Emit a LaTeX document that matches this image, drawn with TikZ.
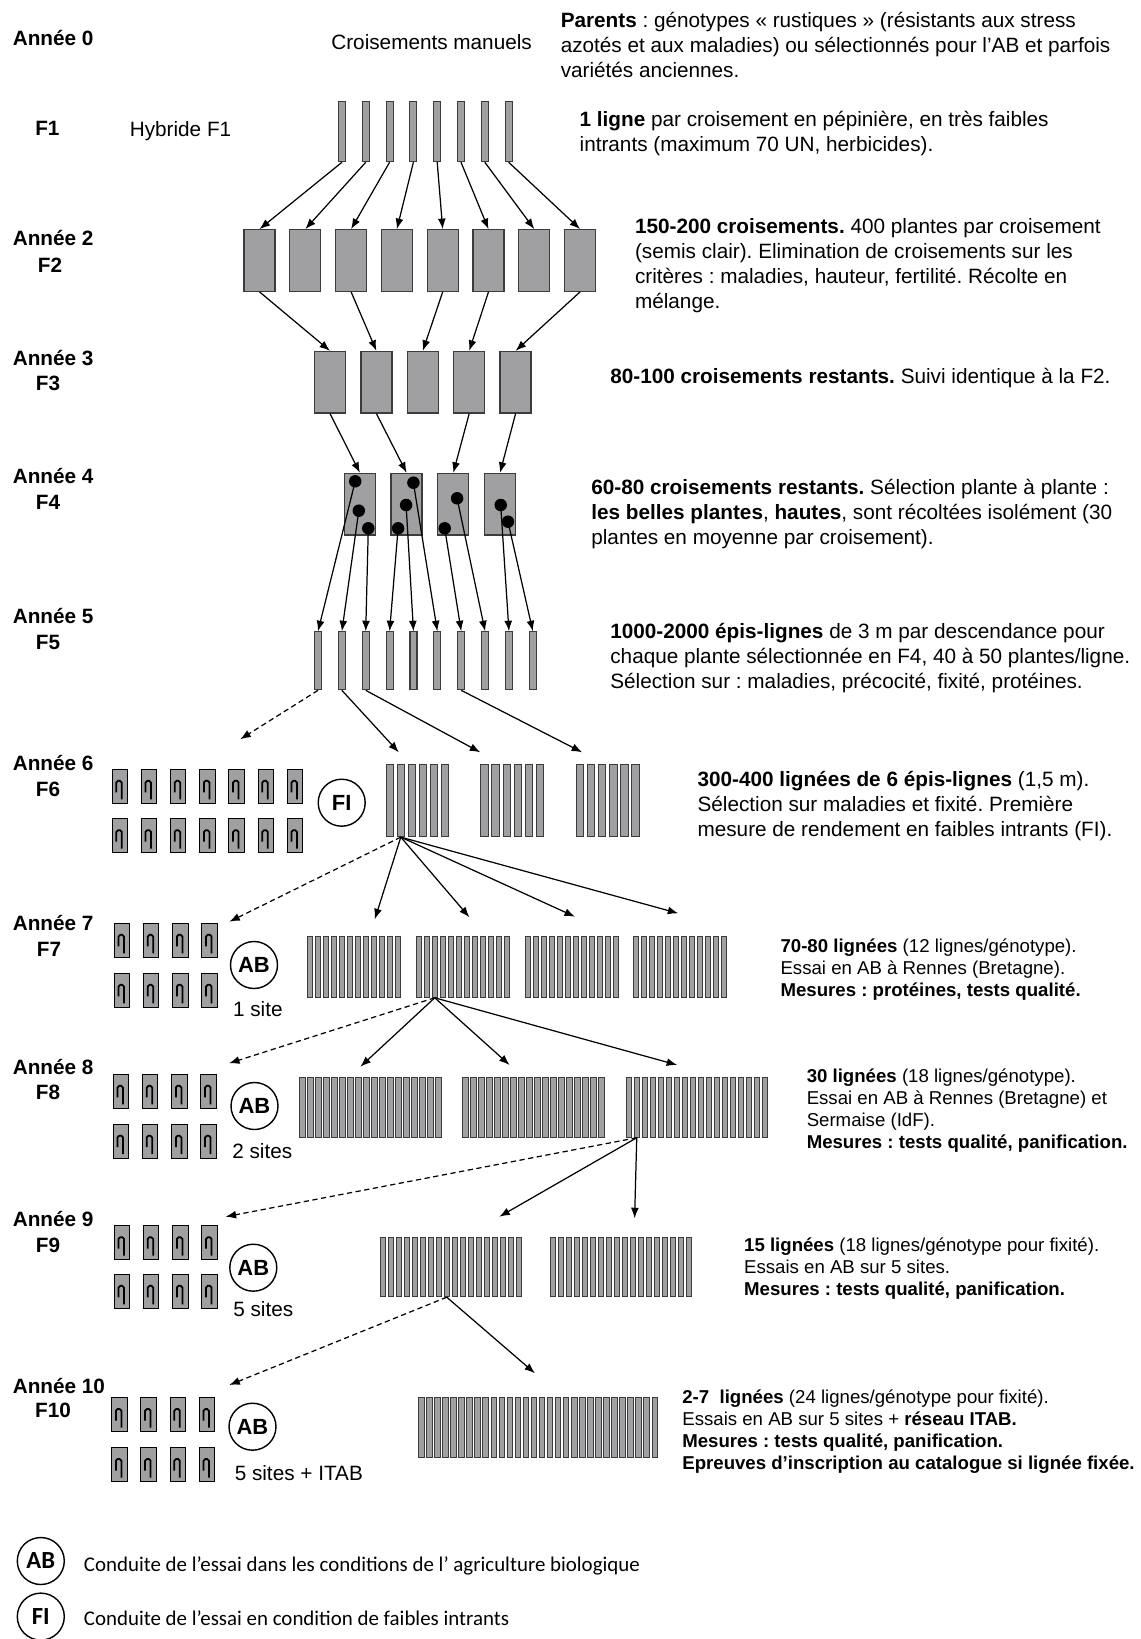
\documentclass[tikz,border=0pt]{standalone}
\usepackage{fontspec}
\setmainfont{Liberation Sans}
\newfontfamily\legfont{Carlito}
\usepackage{tikz}
\usetikzlibrary{arrows.meta}
\frenchspacing
\definecolor{plotgray}{RGB}{160,160,162}
\definecolor{edgegray}{RGB}{60,60,60}
\tikzstyle{yr}=[font=\fontsize{11.8}{14}\selectfont\bfseries,anchor=west,inner sep=0]
\tikzstyle{gen}=[font=\fontsize{11.8}{14}\selectfont\bfseries,inner sep=0]
\tikzstyle{note}=[font=\fontsize{11.8}{14}\selectfont,anchor=west,inner sep=0]
\tikzstyle{txt}=[font=\fontsize{11.8}{14.2}\selectfont,align=left,anchor=north west,inner sep=0]
\tikzstyle{txts}=[font=\fontsize{10.6}{12.6}\selectfont,align=left,anchor=north west,inner sep=0]
\tikzstyle{rowbar}=[draw=edgegray,fill=plotgray,line width=0.6pt,inner sep=0,minimum width=0.14cm]
\tikzstyle{crossbox}=[draw=edgegray,fill=plotgray,line width=0.7pt,inner sep=0,minimum width=0.62cm,minimum height=1.23cm]
\tikzstyle{seed}=[circle,fill=black,inner sep=0,minimum size=0.25cm]
\tikzstyle{trial}=[draw=black,fill=plotgray,line width=0.6pt,inner sep=0,minimum width=0.31cm,minimum height=0.68cm]
\tikzstyle{eta}=[line width=1pt,rounded corners=1pt]
\tikzstyle{lignee}=[draw=edgegray,fill=plotgray,line width=0.5pt,inner sep=0,minimum width=0.11cm]
\tikzstyle{cond}=[circle,draw,line width=0.8pt,inner sep=0,minimum size=0.94cm,font=\fontsize{12.5}{14}\selectfont\bfseries]
\tikzstyle{arr}=[->,>={Latex[length=6pt,width=4.5pt]},line width=0.7pt]
\tikzstyle{darr}=[arr,dash pattern=on 3pt off 2pt]

\begin{document}
\begin{tikzpicture}[x=0.02cm,y=-0.02cm]
\useasboundingbox (0,0) rectangle (1140,1639);

% years and generations
\foreach \n/\t/\y in {y0/Année 0/38.3,y2/Année 2/238.3,y3/Année 3/357.7,y4/Année 4/476,
  y5/Année 5/616,y6/Année 6/763.3,y7/Année 7/923.3,y8/Année 8/1066.7,y9/Année 9/1219,y10/Année 10/1385.7}
  \node[yr] (\n) at (12.5,\y) {\t};
\foreach \n/\t/\x/\y in {g1/F1/47.4/128.3,g2/F2/50/265.7,g3/F3/48/383.3,g4/F4/48/502.7,g5/F5/48/642.7,
  g6/F6/48/789.3,g7/F7/49/949.3,g8/F8/48/1092.7,g9/F9/48/1245.7,g10/F10/53/1410.7}
  \node[gen] (\n) at (\x,\y) {\t};

\node[note] (cm) at (331,41.7) {Croisements manuels};
\node[note] (hf) at (129.5,131) {Hybride F1};

% texts
\node[txt] (t0) at (560.4,12) {\textbf{Parents} : génotypes « rustiques » (résistants aux stress\\
  azotés et aux maladies) ou sélectionnés pour l’AB et parfois\\ variétés anciennes.};
\node[txt] (t1) at (579.3,111.3) {\textbf{1 ligne} par croisement en pépinière, en très faibles\\
  intrants (maximum 70 UN, herbicides).};
\node[txt] (t2) at (634.7,218) {\textbf{150-200 croisements.} 400 plantes par croisement\\
  (semis clair). Elimination de croisements sur les\\
  critères : maladies, hauteur, fertilité. Récolte en\\ mélange.};
\node[note] (t3) at (610,378.3) {\textbf{80-100 croisements restants.} Suivi identique à la F2.};
\node[txt] (t4) at (591,478.7) {\textbf{60-80 croisements restants.} Sélection plante à plante :\\
  \textbf{les belles plantes}, \textbf{hautes}, sont récoltées isolément (30\\
  plantes en moyenne par croisement).};
\node[txt] (t5) at (610,623) {\textbf{1000-2000 épis-lignes} de 3 m par descendance pour\\
  chaque plante sélectionnée en F4, 40 à 50 plantes/ligne.\\
  Sélection sur : maladies, précocité, fixité, protéines.};
\node[txt] (t6) at (697.2,771.3) {\textbf{300-400 lignées de 6 épis-lignes} (1,5 m).\\
  Sélection sur maladies et fixité. Première\\
  mesure de rendement en faibles intrants (FI).};
\node[txts] (t7) at (780.2,938) {\textbf{70-80 lignées} (12 lignes/génotype).\\
  Essai en AB à Rennes (Bretagne).\\ \textbf{Mesures : protéines, tests qualité.}};
\node[txts] (t8) at (806.4,1068) {\textbf{30 lignées} (18 lignes/génotype).\\
  Essai en AB à Rennes (Bretagne) et\\ Sermaise (IdF).\\
  \textbf{Mesures : tests qualité, panification.}};
\node[txts] (t9) at (743.8,1237.3) {\textbf{15 lignées} (18 lignes/génotype pour fixité).\\
  Essais en AB sur 5 sites.\\ \textbf{Mesures : tests qualité, panification.}};
\node[txts] (t10) at (682,1389) {\textbf{2-7\ \ lignées} (24 lignes/génotype pour fixité).\\
  Essais en AB sur 5 sites + \textbf{réseau ITAB.}\\
  \textbf{Mesures : tests qualité, panification.}\\
  \textbf{Epreuves d’inscription au catalogue si lignée fixée.}};

% F1 to F5
\foreach \i in {1,...,8} \node[rowbar,minimum height=1.2cm] (A\i) at ({342+23.8*(\i-1)},131.7) {};
\foreach \i in {1,...,8} \node[crossbox] (B\i) at ({259.5+45.8*(\i-1)},260.5) {};
\foreach \i in {1,...,5} \node[crossbox] (C\i) at ({330+46.4*(\i-1)},382.2) {};
\foreach \i in {1,...,4} \node[crossbox] (D\i) at ({359.9+46.7*(\i-1)},504.2) {};
\foreach \i in {1,...,10} \node[rowbar,minimum height=1.16cm] (E\i) at ({318+23.87*(\i-1)},660.8) {};
\foreach \n/\x/\y in {P1/355.2/481.3,P2/358.8/510.7,P3/368.3/528.3,P4/398.1/528.3,P5/406.1/505,
  P6/413.4/482.7,P7/444.7/528.3,P8/457.1/498.3,P9/500.7/505,P10/508/521.7}
  \node[seed] (\n) at (\x,\y) {};

\foreach \i in {1,...,8} \path[arr] (A\i.south) edge (B\i.north);
\foreach \i/\j in {1/1,3/2,5/3,6/4,8/5} \path[arr] (B\i.south) edge (C\j.north);
\foreach \i/\j in {1/1,2/2,4/3,5/4} \path[arr] (C\i.south) edge (D\j.north);
\foreach \i in {1,...,10} \path[arr] (P\i.center) edge (E\i.north);

% small trial plots
\foreach \g/\n/\x/\ya/\yb in {6/7/119.8/786.3/835.7,7/4/122/940.3/990.3,8/4/121/1091.3/1141.2,
  9/4/122/1242.7/1291.3,10/4/119.4/1414.5/1464.5}
  \foreach \i in {1,...,\n}
    \foreach \r/\y in {1/\ya,2/\yb} {
      \node[trial] (p\g-\r-\i) at ({\x+29.2*(\i-1)},\y) {};
      \draw[eta] (p\g-\r-\i.center) ++(-3.5,6) -- ++(0,-11.5) -- ++(5.5,0) -- ++(0,18.5);
    }
\node[cond] (FI) at (341.7,802.7) {FI};
\node[cond] (AB7) at (254,965) {AB};
\node[cond] (AB8) at (254.5,1106) {AB};
\node[cond] (AB9) at (253.3,1267.7) {AB};
\node[cond] (AB10) at (252.5,1426.7) {AB};
\node[note] (s7) at (232.7,1009.3) {1 site};
\node[note] (s8) at (232,1151) {2 sites};
\node[note] (s9) at (233,1309.3) {5 sites};
\node[note] (s10) at (234.4,1473.3) {5 sites + ITAB};

% lines
\foreach \g/\x in {1/389.7,2/484.4,3/580} \foreach \i in {1,...,6}
  \node[lignee,minimum width=0.146cm,minimum height=1.448cm] (G\g-\i) at ({\x+11.1*(\i-1)},800.5) {};
\foreach \g/\x in {1/309.75,2/418.75,3/528.15,4/635.75} \foreach \i in {1,...,12}
  \node[lignee,minimum height=1.226cm] (H\g-\i) at ({\x+8*(\i-1)},966.7) {};
\foreach \g/\x in {1/302.65,2/465.65,3/628.75} \foreach \i in {1,...,18}
  \node[lignee,minimum height=1.2cm] (I\g-\i) at ({\x+8*(\i-1)},1107.3) {};
\foreach \g/\x in {1/382.75,2/552.75} \foreach \i in {1,...,18}
  \node[lignee,minimum height=1.19cm] (J\g-\i) at ({\x+8*(\i-1)},1267) {};
\foreach \i in {1,...,30}
  \node[lignee,minimum height=1.2cm] (K\i) at ({421.25+8.05*(\i-1)},1427.3) {};

% F5 to F10
\coordinate (n6d) at (240.2,739.3);
\coordinate (n6a) at (398.8,752.3);
\coordinate (n6b) at (480.3,752.3);
\coordinate (n6c) at (582.2,752.3);
\path[darr] (E1.south) edge (n6d);
\path[arr] (E2.south) edge (n6a) (E3.south) edge (n6b) (E7.south) edge (n6c);

\coordinate (n7d) at (229.3,921.7);
\coordinate (n7a) at (374.8,919.3);
\coordinate (n7b) at (469.4,917.3);
\coordinate (n7c) at (575,916.7);
\coordinate (n7e) at (678.3,913.3);
\path[darr] (G1-2.south) edge (n7d);
\path[arr] (G1-2.south) edge (n7a) (G1-2.south) edge (n7b) (G1-2.south) edge (n7c) (G1-2.south) edge (n7e);

\coordinate (n8d) at (229,1063.3);
\coordinate (n8a) at (360.4,1066.7);
\coordinate (n8b) at (509.6,1065);
\coordinate (n8c) at (677.2,1065);
\path[darr] (H2-3.south) edge (n8d);
\path[arr] (H2-3.south) edge (n8a) (H2-3.south) edge (n8b) (H2-3.south) edge (n8c);

\coordinate (n9d) at (225.6,1216.7);
\coordinate (n9a) at (499.3,1216.7);
\coordinate (n9b) at (634.6,1218.3);
\path[darr] (I3-2.south) edge (n9d);
\path[arr] (I3-2.south) edge (n9a) (I3-2.south) edge (n9b);

\coordinate (n10d) at (229.3,1385);
\coordinate (n10a) at (535,1373.3);
\path[darr] (J1-9.south) edge (n10d);
\path[arr] (J1-9.south) edge (n10a);

% legend
\node[cond,font=\legfont\fontsize{14}{16}\selectfont\bfseries] (ABl) at (40.8,1561) {AB};
\node[cond,font=\legfont\fontsize{14}{16}\selectfont\bfseries] (FIl) at (40.8,1616.6) {FI};
\node[anchor=west,inner sep=0,font=\legfont\fontsize{11.9}{14}\selectfont] (l1) at (83.6,1566)
  {Conduite de l’essai dans les conditions de l’ agriculture biologique};
\node[anchor=west,inner sep=0,font=\legfont\fontsize{11.9}{14}\selectfont] (l2) at (83.6,1618.3)
  {Conduite de l’essai en condition de faibles intrants};
\end{tikzpicture}
\end{document}
